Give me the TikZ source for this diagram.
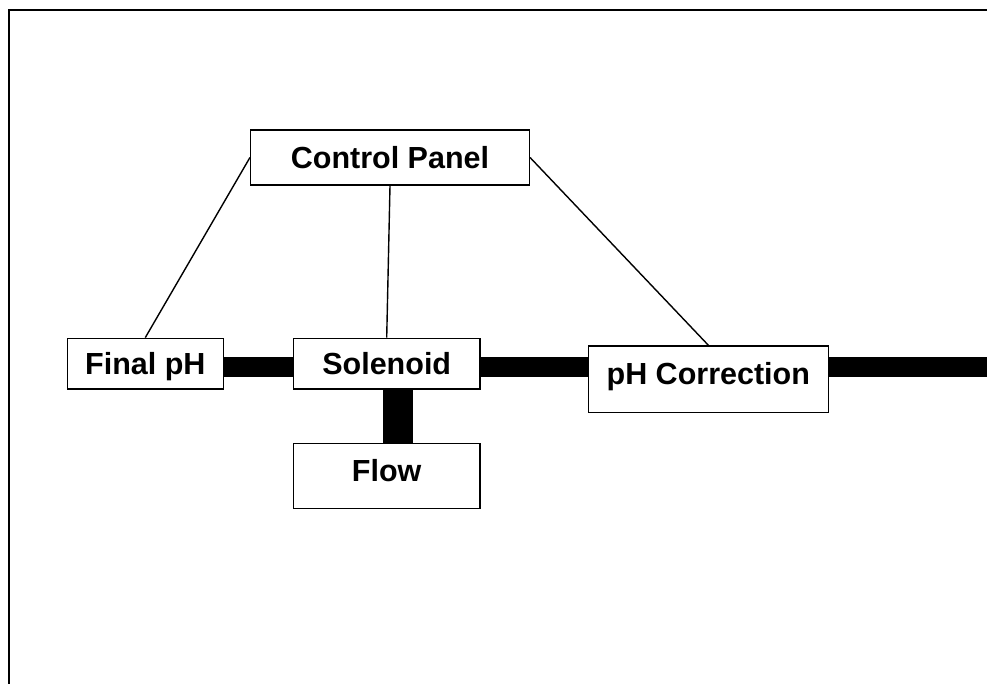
\documentclass[tikz,border=0pt]{standalone}
\usepackage{fontspec}
\setmainfont{Liberation Sans}
\begin{document}
\begin{tikzpicture}[x=1pt,y=-1pt,
  box/.style={draw,line width=1.5pt,inner sep=0pt,font=\fontsize{30.5}{36}\selectfont\bfseries,text height=21.8pt,text depth=0pt},
  link/.style={line width=1.4pt},
  bar/.style={line width=20.6pt},
  vbar/.style={line width=29.7pt}]
\useasboundingbox (0,0) rectangle (987,684);
\fill[white] (0,0) rectangle (987,684);
\draw[line width=2pt] (9,684) -- (9,10) -- (987,10);
\node[box,minimum width=278.6pt,minimum height=55pt] (cp) at (390,157.5) {Control Panel};
\node[box,minimum width=156pt,minimum height=50.7pt] (fph) at (145.3,363.7) {Final pH};
\node[box,minimum width=186.7pt,minimum height=50.7pt] (sol) at (386.7,363.7) {Solenoid};
\node[box,minimum width=240pt,minimum height=66.7pt,text depth=11pt] (phc) at (708.3,379.3) {pH Correction};
\node[box,minimum width=186.7pt,minimum height=65pt,text depth=10pt] (flow) at (386.7,475.8) {Flow};
\coordinate (busy) at (0,367);
\coordinate (vx) at (398.2,0);
\coordinate (out) at (987,367);
\draw[bar] (fph.east |- busy) -- (sol.west |- busy);
\draw[bar] (sol.east |- busy) -- (phc.west |- busy);
\draw[bar] (phc.east |- busy) -- (out);
\draw[vbar] (sol.south -| vx) -- (flow.north -| vx);
\draw[link] (cp.west) -- (fph.north);
\draw[link] (cp.south) -- (sol.north);
\draw[link] (cp.east) -- (phc.north);
\end{tikzpicture}
\end{document}
